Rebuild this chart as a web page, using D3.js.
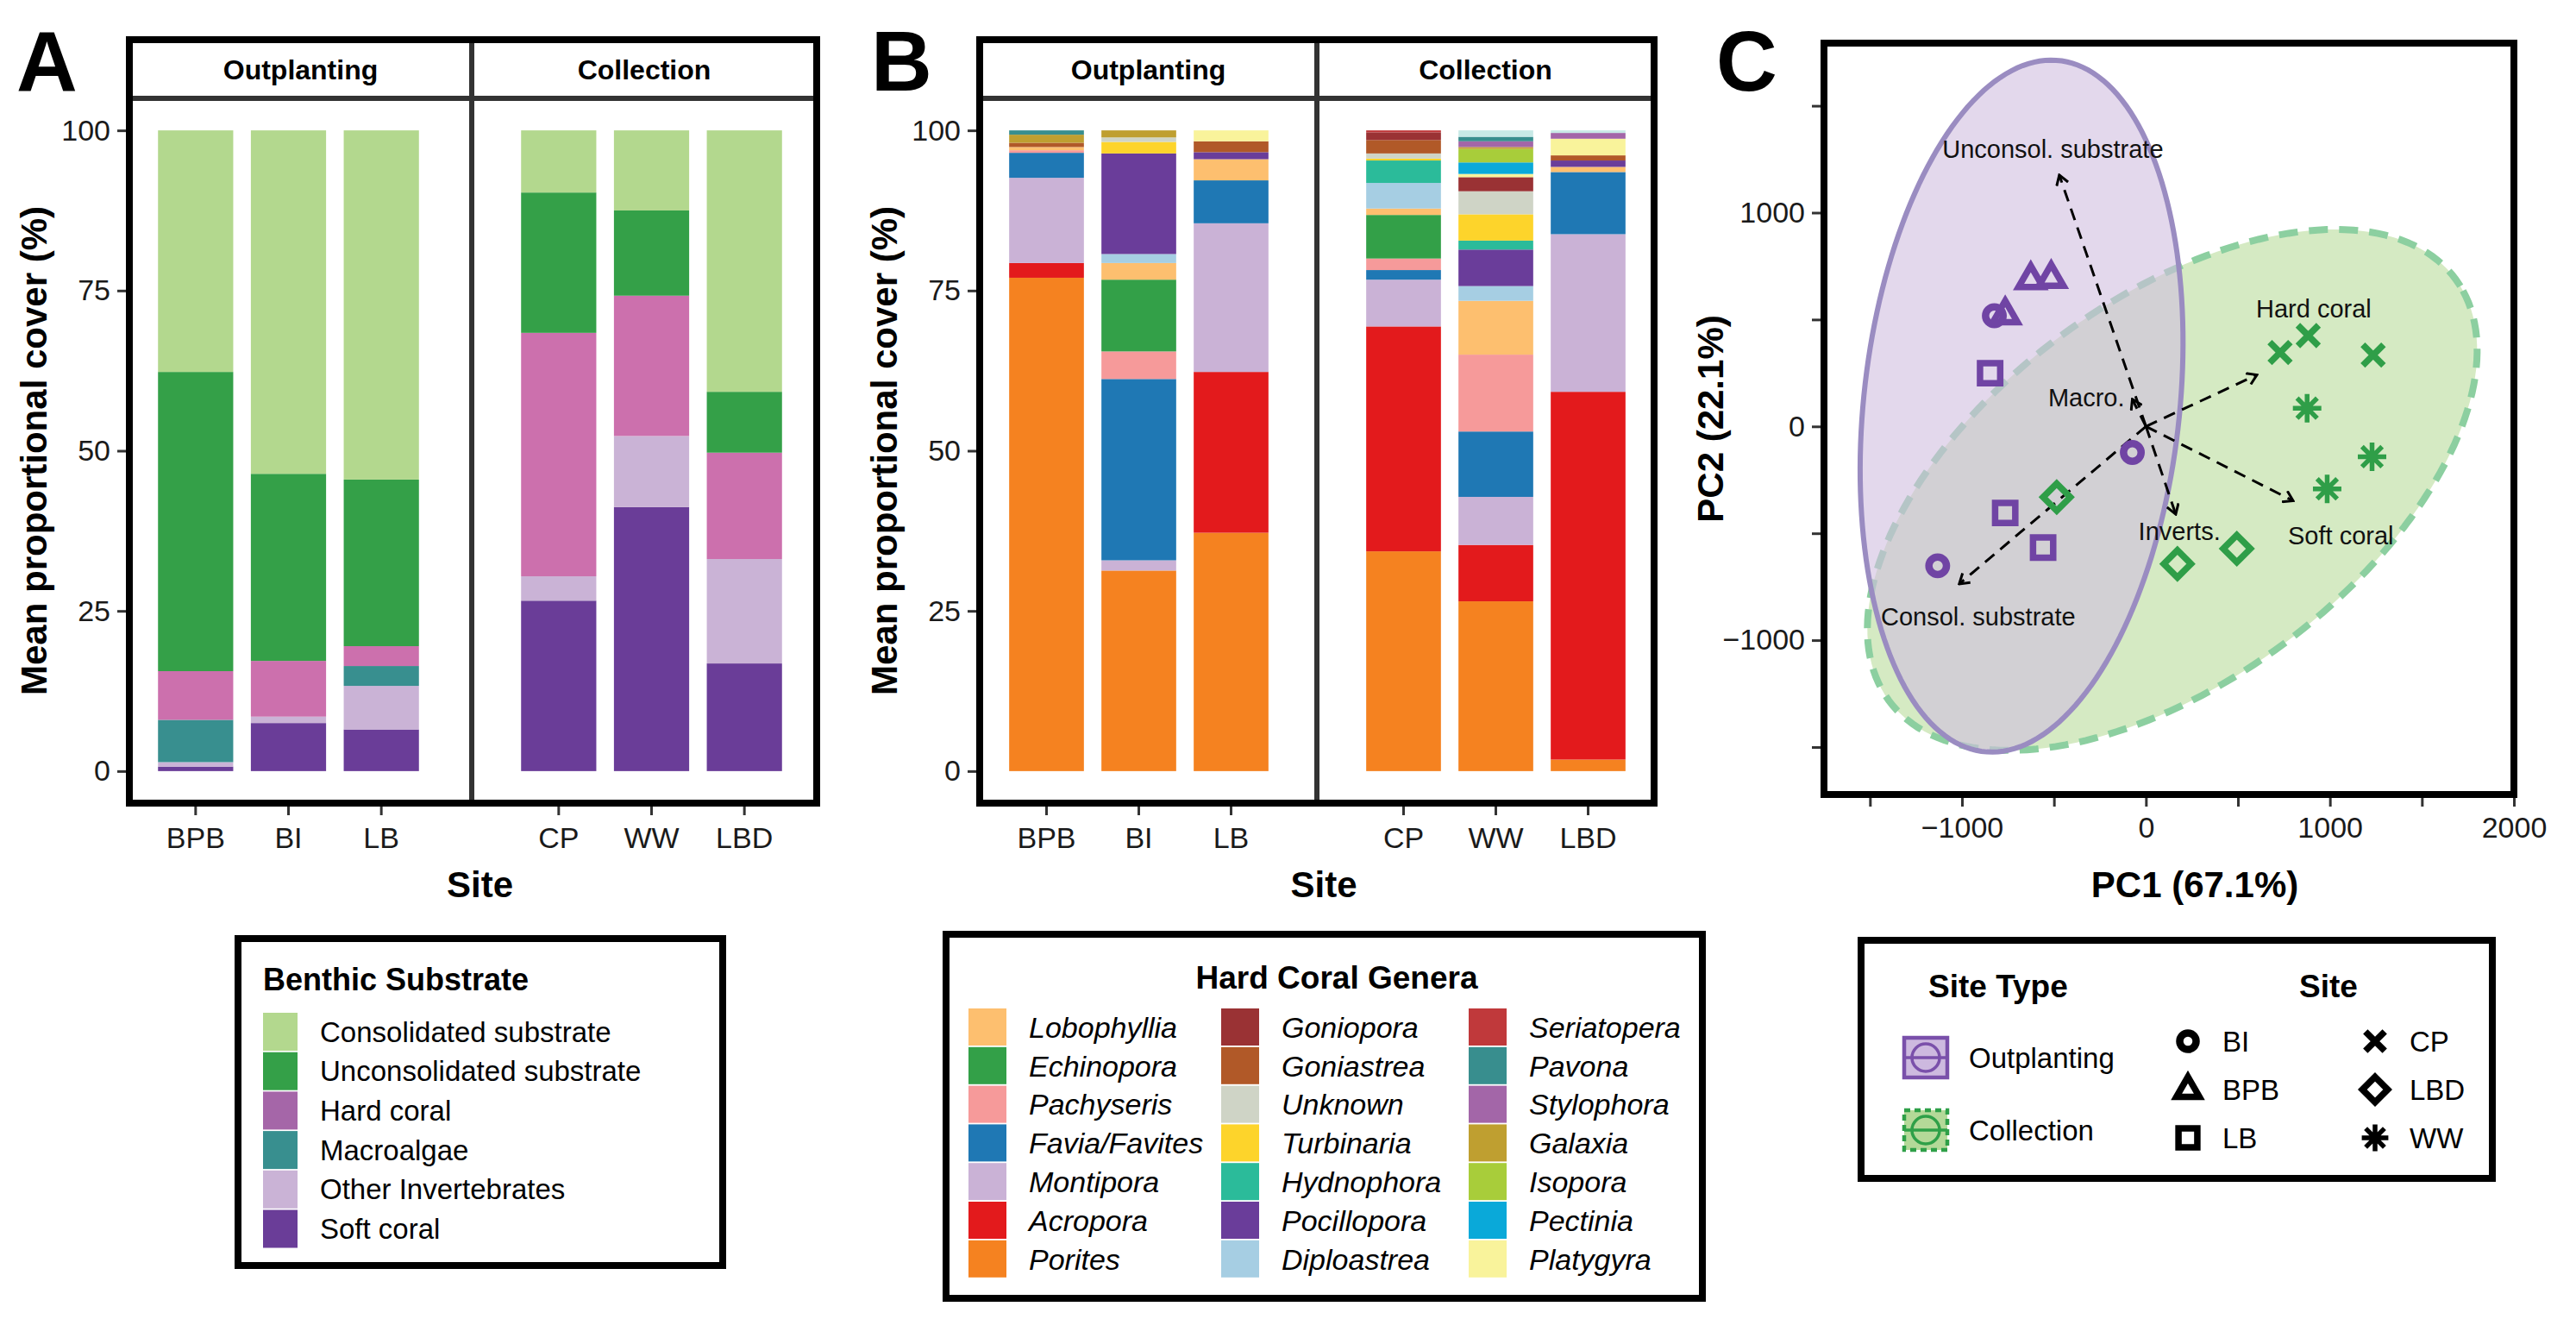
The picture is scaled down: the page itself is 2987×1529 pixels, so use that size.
<!DOCTYPE html>
<html>
<head>
<meta charset="utf-8">
<script src="https://cdn.jsdelivr.net/npm/d3@7"></script>
<style>
  body { margin: 0; background: #fff; }
  text { font-family: "Liberation Sans", Arial, Helvetica, sans-serif; }
</style>
</head>
<body>
<div class="chart"></div>
<script>
// ---------- data ----------
const outSites = ["BPB", "BI", "LB"];
const colSites = ["CP", "WW", "LBD"];
const allSites = outSites.concat(colSites);

// panel A, legend order
const substrates = ["Consolidated substrate", "Unconsolidated substrate", "Hard coral", "Macroalgae", "Other Invertebrates", "Soft coral"];
const substrateColors = ["#b3d88e", "#34a048", "#cc70ad", "#388f8f", "#cab3d6", "#6a3d98"];
const substrateKeyColors = ["#b3d88e", "#34a048", "#a566a8", "#388f8f", "#cab3d6", "#6a3d98"];
// mean % cover, rows = BPB, BI, LB, CP, WW, LBD ; columns in substrate order
const substrateCover = [
  [37.7, 46.7, 7.6, 6.6, 0.7, 0.7],
  [53.6, 29.2, 8.7, 0.0, 1.0, 7.5],
  [54.5, 26.0, 3.1, 3.1, 6.8, 6.5],
  [9.7, 21.9, 38.0, 0.0, 3.8, 26.6],
  [12.5, 13.3, 21.9, 0.0, 11.1, 41.2],
  [40.8, 9.5, 16.6, 0.0, 16.3, 16.8]
];

// panel B, legend order (3 columns of 7)
const genera = ["Lobophyllia", "Echinopora", "Pachyseris", "Favia/Favites", "Montipora", "Acropora", "Porites",
  "Goniopora", "Goniastrea", "Unknown", "Turbinaria", "Hydnophora", "Pocillopora", "Diploastrea",
  "Seriatopera", "Pavona", "Stylophora", "Galaxia", "Isopora", "Pectinia", "Platygyra"];
const generaColors = ["#fdbf6f", "#33a048", "#f69a9a", "#1f78b4", "#cab2d6", "#e31a1c", "#f58220",
  "#9a3234", "#b15928", "#cfd4c6", "#fdd42b", "#2bbb9a", "#6a3d9a", "#a6cee3",
  "#c0393b", "#388e8e", "#a366a8", "#bf9f30", "#a8cd3a", "#0aa9d9", "#f9f39b"];
// thin light band on top of WW and LBD that has no legend entry
const extraBand = "other";
const extraColor = "#c8e9e6";
// % cover, rows = BPB, BI, LB, CP, WW, LBD ; columns = genera order, then the extra band
const genusCover = [
  [0.5, 0, 0.4, 3.9, 13.3, 2.3, 77.0,   0, 0.67, 0, 0, 0, 0, 0,   0, 0.67, 0, 1.26, 0, 0, 0,   0],
  [2.6, 11.2, 4.3, 28.3, 1.6, 0, 31.3,   0, 0, 0.7, 1.8, 0, 15.7, 1.4,   0, 0, 0, 1.1, 0, 0, 0,   0],
  [3.3, 0, 0, 6.7, 23.2, 25.1, 37.2,   0, 1.7, 0, 0, 0, 1.1, 0,   0, 0, 0, 0, 0, 0, 1.7,   0],
  [1.0, 6.8, 1.8, 1.5, 7.3, 35.1, 34.3,   1.2, 2.1, 0.8, 0.3, 3.5, 0, 4.0,   0.3, 0, 0, 0, 0, 0, 0,   0],
  [8.4, 0, 12.0, 10.2, 7.5, 8.8, 26.5,   2.2, 0, 3.6, 4.1, 1.4, 5.7, 2.3,   0, 0.7, 0.9, 0.3, 2.1, 1.8, 0.5,   1.0],
  [0.8, 0, 0, 9.7, 24.6, 57.4, 1.8,   0, 0.8, 0, 0, 0, 1.0, 0,   0, 0, 0.9, 0, 0, 0, 2.6,   0.4]
];

// panel C
const pcaSite = ["BI", "BI", "BI", "BPB", "BPB", "BPB", "LB", "LB", "LB", "CP", "CP", "CP", "LBD", "LBD", "LBD", "WW", "WW", "WW"];
const pc1 = [-824, -74, -1132, -765, -626, -515, -847, -765, -559, 729, 882, 1235, -485, 171, 494, 876, 1229, 985];
const pc2 = [518, -122, -652, 524, 688, 694, 249, -405, -567, 346, 425, 334, -331, -643, -572, 85, -142, -292];
const loadingNames = ["Unconsol. substrate", "Hard coral", "Soft coral", "Inverts.", "Macro.", "Consol. substrate"];
const loadingPC1 = [-471, 603, 800, 162, -74, -1015];
const loadingPC2 = [1176, 241, -348, -411, 127, -737];
const labelPC1 = [-506, 912, 1059, 182, -324, -912];
const labelPC2 = [1295, 552, -510, -490, 133, -892];
// 95% ellipses: centre and semi-axis vectors, in PC units
const ellipseType = ["Collection", "Outplanting"];
const ellipseCentre = [[143, -297], [-676, 95]];
const ellipseMajor = [[1580, 932], [218, 1615]];
const ellipseMinor = [[500, -785], [850, -106]];

const siteTypes = ["Outplanting", "Collection"];
const siteLegend = [["BI", "BPB", "LB"], ["CP", "LBD", "WW"]];
const siteShape = {BI: "circle", BPB: "triangle", LB: "square", CP: "cross", LBD: "diamond", WW: "asterisk"};

// ---------- setup ----------
const FONT = '"Liberation Sans", Arial, Helvetica, sans-serif';
const purple = "#7044a4", green = "#2f9e48";

const svg = d3.select('.chart')
  .append('svg')
  .attr('width', 2987)
  .attr('height', 1529)
  .style('font-family', FONT);

function styleAxis(g) {
  g.attr('font-family', FONT).attr('font-size', 34);
  g.select('.domain').remove();
  g.selectAll('.tick line').attr('stroke', '#333').attr('stroke-width', 3);
  g.selectAll('.tick text').attr('fill', '#1a1a1a');
}

function panelLetter(txt, x) {
  svg.append('text').attr('x', x).attr('y', 105)
    .attr('font-size', 98).attr('font-weight', 'bold').text(txt);
}

// ---------- stacked bar panels ----------
function barPanel(p) {
  const g = svg.append('g');
  const y = d3.scaleLinear().domain([-5, 105]).range([p.bottom, p.stripBottom]);
  const xOut = d3.scaleBand().domain(outSites).range(p.outRange).paddingInner(0.19).paddingOuter(0.095);
  const xCol = d3.scaleBand().domain(colSites).range(p.colRange).paddingInner(0.19).paddingOuter(0.095);
  const xOf = s => outSites.includes(s) ? xOut(s) : xCol(s);

  const series = d3.stack().keys(p.keys)(p.rows);
  g.selectAll('g.layer')
    .data(series)
    .join('g')
    .attr('fill', d => p.color(d.key))
    .selectAll('rect')
    .data(d => d.filter(v => v[1] - v[0] > 0))
    .join('rect')
      .attr('x', d => xOf(d.data.site))
      .attr('width', xOut.bandwidth())
      .attr('y', d => y(d[1]))
      .attr('height', d => y(d[0]) - y(d[1]));

  // axes
  g.append('g')
    .attr('transform', `translate(${p.x0 - 4},0)`)
    .call(d3.axisLeft(y).tickValues([0, 25, 50, 75, 100]).tickSize(10).tickPadding(8))
    .call(styleAxis);
  [xOut, xCol].forEach(sc => {
    g.append('g')
      .attr('transform', `translate(0,${p.bottom + 4})`)
      .call(d3.axisBottom(sc).tickSize(10).tickPadding(14))
      .call(styleAxis);
  });

  // frame, strip and facet divider
  g.append('line').attr('x1', p.x0).attr('x2', p.x1).attr('y1', p.stripBottom).attr('y2', p.stripBottom)
    .attr('stroke', '#333').attr('stroke-width', 6);
  g.append('line').attr('x1', p.div).attr('x2', p.div).attr('y1', p.top).attr('y2', p.bottom)
    .attr('stroke', '#333').attr('stroke-width', 6);
  g.append('rect').attr('x', p.x0).attr('y', p.top)
    .attr('width', p.x1 - p.x0).attr('height', p.bottom - p.top)
    .attr('fill', 'none').attr('stroke', '#000').attr('stroke-width', 8);

  const stripY = (p.top + p.stripBottom) / 2 + 12;
  g.append('text').attr('x', (p.x0 + p.div) / 2).attr('y', stripY)
    .attr('text-anchor', 'middle').attr('font-size', 32).attr('font-weight', 'bold').text('Outplanting');
  g.append('text').attr('x', (p.div + p.x1) / 2).attr('y', stripY)
    .attr('text-anchor', 'middle').attr('font-size', 32).attr('font-weight', 'bold').text('Collection');

  g.append('text')
    .attr('transform', `translate(${p.titleX},${(p.stripBottom + p.bottom) / 2}) rotate(-90)`)
    .attr('text-anchor', 'middle').attr('font-size', 42).attr('font-weight', 'bold')
    .text('Mean proportional cover (%)');
  g.append('text').attr('x', (p.x0 + p.x1) / 2 + 8).attr('y', 1040)
    .attr('text-anchor', 'middle').attr('font-size', 42).attr('font-weight', 'bold').text('Site');
}

// panel A rows
const substrateRows = allSites.map((s, i) => {
  const r = {site: s};
  substrates.forEach((k, j) => r[k] = substrateCover[i][j]);
  return r;
});
const substrateColor = d3.scaleOrdinal().domain(substrates).range(substrateColors);

panelLetter('A', 19);
barPanel({
  x0: 150, x1: 947, div: 547, top: 46, stripBottom: 114, bottom: 931,
  outRange: [173, 496], colRange: [594, 917], titleX: 54,
  keys: substrates.slice().reverse(), rows: substrateRows, color: substrateColor
});

// panel B rows
const genusKeys = genera.concat([extraBand]);
const genusRows = allSites.map((s, i) => {
  const r = {site: s};
  genusKeys.forEach((k, j) => r[k] = genusCover[i][j]);
  return r;
});
// each legend column stacks bottom-up in reverse, columns in order
const stackKeys = [];
[0, 7, 14].forEach(c => {
  for (let j = c + 6; j >= c; j--) stackKeys.push(genera[j]);
});
stackKeys.push(extraBand);
const genusColor = d3.scaleOrdinal().domain(genusKeys).range(generaColors.concat([extraColor]));

panelLetter('B', 1010);
barPanel({
  x0: 1136, x1: 1918, div: 1527, top: 46, stripBottom: 114, bottom: 931,
  outRange: [1160, 1481], colRange: [1574, 1895], titleX: 1040,
  keys: stackKeys, rows: genusRows, color: genusColor
});

// ---------- panel C: PCA ----------
panelLetter('C', 1990);
const cx0 = 2115, cx1 = 2915, cy0 = 50, cy1 = 921;
const xPC = d3.scaleLinear().domain([-1750, 2000]).range([cx0, cx1]);
const yPC = d3.scaleLinear().domain([-1722, 1793]).range([cy1, cy0]);
const gC = svg.append('g');

const ellipseLine = d3.line().curve(d3.curveLinearClosed);
ellipseType.forEach((t, i) => {
  const pts = d3.range(0, 360, 2).map(a => {
    const r = a * Math.PI / 180;
    const px = ellipseCentre[i][0] + Math.cos(r) * ellipseMajor[i][0] + Math.sin(r) * ellipseMinor[i][0];
    const py = ellipseCentre[i][1] + Math.cos(r) * ellipseMajor[i][1] + Math.sin(r) * ellipseMinor[i][1];
    return [xPC(px), yPC(py)];
  });
  const path = gC.append('path').attr('d', ellipseLine(pts));
  if (t === 'Collection') {
    path.attr('fill', '#d5eac3').attr('stroke', '#8ccfa0').attr('stroke-width', 8)
      .attr('stroke-dasharray', '22 13');
  } else {
    path.attr('fill', '#d0bedf').attr('fill-opacity', 0.6)
      .attr('stroke', '#9a8cc1').attr('stroke-width', 6);
  }
});

// loading arrows
const defs = svg.append('defs');
defs.append('marker').attr('id', 'arrowhead')
  .attr('viewBox', '-12 -8 14 16').attr('refX', 0).attr('refY', 0)
  .attr('markerWidth', 14).attr('markerHeight', 16).attr('markerUnits', 'userSpaceOnUse')
  .attr('orient', 'auto')
  .append('path').attr('d', 'M-11,-7 L0,0 L-11,7')
  .attr('fill', 'none').attr('stroke', '#000').attr('stroke-width', 3);

gC.selectAll('line.load')
  .data(loadingNames)
  .join('line')
  .attr('x1', xPC(0)).attr('y1', yPC(0))
  .attr('x2', (d, i) => xPC(loadingPC1[i]))
  .attr('y2', (d, i) => yPC(loadingPC2[i]))
  .attr('stroke', '#000').attr('stroke-width', 3)
  .attr('stroke-dasharray', '14 9')
  .attr('marker-end', 'url(#arrowhead)');

gC.selectAll('text.load')
  .data(loadingNames)
  .join('text')
  .attr('x', (d, i) => xPC(labelPC1[i]))
  .attr('y', (d, i) => yPC(labelPC2[i]) + 10)
  .attr('text-anchor', 'middle').attr('font-size', 29).attr('fill', '#111')
  .text(d => d);

// point shapes
function shapePath(shape, s) {
  const p = d3.path();
  if (shape === 'circle') {
    p.moveTo(s * 0.68, 0); p.arc(0, 0, s * 0.68, 0, 2 * Math.PI);
  } else if (shape === 'triangle') {
    p.moveTo(0, -s * 1.05); p.lineTo(s * 0.95, s * 0.6); p.lineTo(-s * 0.95, s * 0.6); p.closePath();
  } else if (shape === 'square') {
    p.rect(-s * 0.78, -s * 0.78, s * 1.56, s * 1.56);
  } else if (shape === 'diamond') {
    p.moveTo(0, -s * 1.05); p.lineTo(s * 1.05, 0); p.lineTo(0, s * 1.05); p.lineTo(-s * 1.05, 0); p.closePath();
  } else if (shape === 'cross') {
    p.moveTo(-s * 0.8, -s * 0.8); p.lineTo(s * 0.8, s * 0.8);
    p.moveTo(-s * 0.8, s * 0.8); p.lineTo(s * 0.8, -s * 0.8);
  } else if (shape === 'asterisk') {
    [0, 45, 90, 135].forEach(a => {
      const r = a * Math.PI / 180;
      p.moveTo(-Math.cos(r) * s * 1.1, -Math.sin(r) * s * 1.1);
      p.lineTo(Math.cos(r) * s * 1.1, Math.sin(r) * s * 1.1);
    });
  }
  return p.toString();
}
const strokeFor = shape => shape === 'circle' ? 8.5 : (shape === 'asterisk' ? 5.5 : 7.5);
const typeOf = s => outSites.includes(s) ? 'Outplanting' : 'Collection';

gC.selectAll('path.pt')
  .data(pcaSite)
  .join('path')
  .attr('transform', (d, i) => `translate(${xPC(pc1[i])},${yPC(pc2[i])})`)
  .attr('d', d => shapePath(siteShape[d], 15))
  .attr('fill', 'none')
  .attr('stroke', d => typeOf(d) === 'Outplanting' ? purple : green)
  .attr('stroke-width', d => strokeFor(siteShape[d]))
  .attr('stroke-linejoin', 'miter');

// axes C
gC.append('g')
  .attr('transform', `translate(0,${cy1 + 4})`)
  .call(d3.axisBottom(xPC).tickValues(d3.range(-1500, 2001, 500))
    .tickFormat(v => v % 1000 === 0 ? d3.format('')(v) : '').tickSize(10).tickPadding(12))
  .call(styleAxis);
gC.append('g')
  .attr('transform', `translate(${cx0 - 4},0)`)
  .call(d3.axisLeft(yPC).tickValues(d3.range(-1500, 1501, 500))
    .tickFormat(v => v % 1000 === 0 ? d3.format('')(v) : '').tickSize(10).tickPadding(8))
  .call(styleAxis);
gC.append('rect').attr('x', cx0).attr('y', cy0)
  .attr('width', cx1 - cx0).attr('height', cy1 - cy0)
  .attr('fill', 'none').attr('stroke', '#000').attr('stroke-width', 8);
gC.append('text').attr('x', 2545).attr('y', 1040)
  .attr('text-anchor', 'middle').attr('font-size', 42).attr('font-weight', 'bold').text('PC1 (67.1%)');
gC.append('text')
  .attr('transform', `translate(1998,${(cy0 + cy1) / 2}) rotate(-90)`)
  .attr('text-anchor', 'middle').attr('font-size', 42).attr('font-weight', 'bold').text('PC2 (22.1%)');

// ---------- legends ----------
function legendBox(x, y, w, h) {
  svg.append('rect').attr('x', x).attr('y', y).attr('width', w).attr('height', h)
    .attr('fill', '#fff').attr('stroke', '#000').attr('stroke-width', 8);
}

// legend A
legendBox(276, 1088, 562, 379);
svg.append('text').attr('x', 305).attr('y', 1148).attr('font-size', 36).attr('font-weight', 'bold')
  .text('Benthic Substrate');
const legA = svg.append('g').selectAll('g').data(substrates).join('g')
  .attr('transform', (d, i) => `translate(305,${1174 + i * 45.7})`);
legA.append('rect').attr('width', 40).attr('height', 44).attr('fill', (d, i) => substrateKeyColors[i]);
legA.append('text').attr('x', 66).attr('y', 22).attr('dy', '0.35em').attr('font-size', 33).text(d => d);

// legend B
legendBox(1097, 1083, 877, 422);
svg.append('text').attr('x', 1550).attr('y', 1146).attr('text-anchor', 'middle')
  .attr('font-size', 37).attr('font-weight', 'bold').text('Hard Coral Genera');
const colX = [1123, 1416, 1703];
const legB = svg.append('g').selectAll('g').data(genera).join('g')
  .attr('transform', (d, i) => `translate(${colX[Math.floor(i / 7)]},${1169 + (i % 7) * 44.8})`);
legB.append('rect').attr('width', 44).attr('height', 43).attr('fill', (d, i) => generaColors[i]);
legB.append('text').attr('x', 70).attr('y', 22).attr('dy', '0.35em')
  .attr('font-size', 34).attr('font-style', 'italic').text(d => d);

// legend C
legendBox(2158, 1090, 732, 276);
svg.append('text').attr('x', 2236).attr('y', 1156).attr('font-size', 37).attr('font-weight', 'bold').text('Site Type');
svg.append('text').attr('x', 2700).attr('y', 1156).attr('text-anchor', 'middle')
  .attr('font-size', 37).attr('font-weight', 'bold').text('Site');
const typeKey = svg.append('g').selectAll('g').data(siteTypes).join('g')
  .attr('transform', (d, i) => `translate(2233,${1226 + i * 84})`);
typeKey.append('rect').attr('x', -25).attr('y', -23).attr('width', 50).attr('height', 46)
  .attr('fill', d => d === 'Outplanting' ? '#cdb9df' : '#b4d998')
  .attr('stroke', d => d === 'Outplanting' ? '#7a50aa' : '#2fa048')
  .attr('stroke-width', 4.5)
  .attr('stroke-dasharray', d => d === 'Outplanting' ? null : '7 5');
typeKey.append('line').attr('x1', -25).attr('x2', 25)
  .attr('stroke', d => d === 'Outplanting' ? '#7a50aa' : '#2fa048').attr('stroke-width', 3.5);
typeKey.append('circle').attr('r', 16).attr('fill', 'none')
  .attr('stroke', d => d === 'Outplanting' ? '#7a50aa' : '#2fa048').attr('stroke-width', 3.5);
typeKey.append('text').attr('x', 50).attr('dy', '0.35em').attr('font-size', 33).text(d => d);

const symColX = [2537, 2754];
siteLegend.forEach((col, c) => {
  const gS = svg.append('g').selectAll('g').data(col).join('g')
    .attr('transform', (d, i) => `translate(${symColX[c]},${1207 + i * 56})`);
  gS.append('path').attr('d', d => shapePath(siteShape[d], 14))
    .attr('fill', 'none').attr('stroke', '#000')
    .attr('stroke-width', d => strokeFor(siteShape[d]));
  gS.append('text').attr('x', 40).attr('dy', '0.35em').attr('font-size', 33).text(d => d);
});
</script>
</body>
</html>
